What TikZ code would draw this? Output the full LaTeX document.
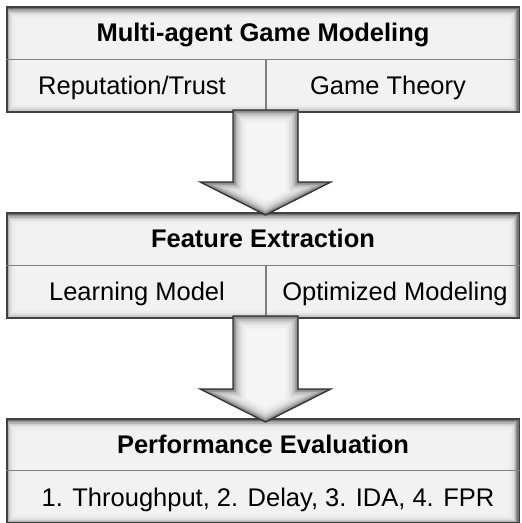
\documentclass[tikz,border=0pt]{standalone}
\usepackage{fontspec}
\setmainfont{Liberation Sans}
\usetikzlibrary{calc}
\tikzset{
  shadowbox/.style={draw=black!75, line width=1.2pt, fill=black!5, inner sep=0pt,
    path picture={
      \foreach \w/\c in {18/7,13/12,9/20,6/30,3.5/42,1.5/55}{
        \draw[line width=\w pt, black!\c]
          ([shift={(-1.5pt,-1.5pt)}]path picture bounding box.south west) rectangle
          ([shift={(-1.5pt,-1.5pt)}]path picture bounding box.north east);
      }}},
  divline/.style={draw=black!50, line width=1.2pt},
  titletext/.style={font=\fontsize{25.5}{30}\selectfont\bfseries, anchor=base, inner sep=0pt},
  rowtext/.style={font=\fontsize{25.5}{30}\selectfont, anchor=base, inner sep=0pt},
  arrowborder/.style={draw=black!80, line width=1.2pt, line join=miter},
}
\newcommand\myblockarrow[3]{%
  \begin{scope}
    \clip (233,#1) -- (298,#1) -- (298,#2) -- (331,#2) -- (265.5,#3) -- (200,#2) -- (233,#2) -- cycle;
    \fill[black!4] (190,#1) rectangle (340,#3);
    \foreach \w/\c in {24/7,18/12,13/19,9/28,5.5/40,2.5/55}{
      \draw[line width=\w pt, black!\c, line join=miter]
        (233,#1) -- (298,#1) -- (298,#2) -- (331,#2) -- (265.5,#3) -- (200,#2) -- (233,#2) -- cycle;
    }
  \end{scope}
  \draw[arrowborder] (233,#1) -- (298,#1) -- (298,#2) -- (331,#2) -- (265.5,#3) -- (200,#2) -- (233,#2) -- cycle;
}
\begin{document}
\begin{tikzpicture}[x=1pt,y=-1pt]
\useasboundingbox (0,0) rectangle (522,523);
\fill[white] (0,0) rectangle (522,523);

% boxes
\node[shadowbox, minimum width=512.5pt, minimum height=105pt] (b1) at (263.25,59.5) {};
\node[shadowbox, minimum width=512.5pt, minimum height=105pt] (b2) at (263.25,265.5) {};
\node[shadowbox, minimum width=512.5pt, minimum height=103.5pt] (b3) at (263.25,470.75) {};

% dividers
\draw[divline] (b1.west) -- (b1.east);
\draw[divline] ($(b1.center)+(2.75,0)$) -- ($(b1.south)+(2.75,0)$);
\draw[divline] (b2.west) -- (b2.east);
\draw[divline] ($(b2.center)+(2.75,0)$) -- ($(b2.south)+(2.75,0)$);
\draw[divline] (b3.west) -- (b3.east);

% texts
\node[titletext] (t1) at (263,41.7) {Multi-agent Game Modeling};
\node[rowtext] (r1a) at (132,94) {Reputation/Trust};
\node[rowtext] (r1b) at (388,94) {Game Theory};
\node[titletext] (t2) at (263,247.5) {Feature Extraction};
\node[rowtext] (r2a) at (137,300) {Learning Model};
\node[rowtext] (r2b) at (395,300) {Optimized Modeling};
\node[titletext] (t3) at (263,453.5) {Performance Evaluation};
\node[rowtext] (r3) at (268,506) {1. Throughput, 2. Delay, 3. IDA, 4. FPR};

% block arrows
\myblockarrow{110}{182}{215}
\myblockarrow{316}{389}{422}
\end{tikzpicture}
\end{document}
